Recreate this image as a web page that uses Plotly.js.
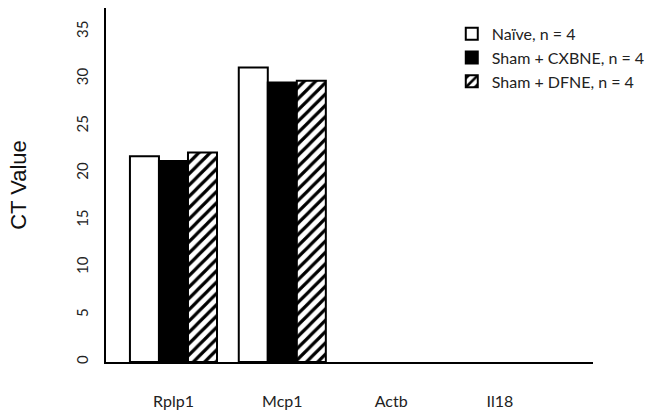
<!DOCTYPE html>
<html>
<head>
<meta charset="utf-8">
<script src="https://cdn.plot.ly/plotly-3.0.1.min.js"></script>
<style>html,body{margin:0;padding:0;background:#fff;}#chart{width:658px;height:411px;}</style>
</head>
<body>
<div id="chart"></div>
<script>
const categories = ["Rplp1", "Mcp1", "Actb", "Il18"];
const seriesNames = ["Naïve, n = 4", "Sham + CXBNE, n = 4", "Sham + DFNE, n = 4"];
const naive = [21.8, 31.2, null, null];
const cxbne = [21.3, 29.6, null, null];
const dfne = [22.2, 29.8, null, null];
const yTicks = [0, 5, 10, 15, 20, 25, 30, 35];

const base = {type: 'bar', x: categories, hoverinfo: 'skip'};
const traces = [
  Object.assign({}, base, {name: seriesNames[0], y: naive,
    marker: {color: '#ffffff', line: {color: '#000', width: 2}}}),
  Object.assign({}, base, {name: seriesNames[1], y: cxbne,
    marker: {color: '#000000', line: {color: '#000', width: 2}}}),
  Object.assign({}, base, {name: seriesNames[2], y: dfne,
    marker: {color: '#ffffff', line: {color: '#000', width: 2},
      pattern: {shape: '/', fgcolor: '#000', bgcolor: '#fff', size: 8, solidity: 0.4}}})
];

const layout = {
  width: 658, height: 411,
  margin: {l: 106, r: 60, t: 8, b: 49},
  paper_bgcolor: '#fff', plot_bgcolor: '#fff',
  font: {family: 'Lato, "Open Sans", sans-serif', color: '#222', size: 14},
  barmode: 'group', bargap: 0.2, bargroupgap: 0,
  showlegend: true,
  legend: {x: 0.71, y: 0.975, xanchor: 'left', yanchor: 'top',
    font: {size: 16, color: '#222'}, bgcolor: 'rgba(0,0,0,0)', tracegroupgap: 0,
    itemwidth: 30},
  xaxis: {type: 'category', range: [-0.62, 3.855], showline: true, linecolor: '#000', linewidth: 2,
    ticks: '', showgrid: false, zeroline: false, ticklabelstandoff: 24,
    tickfont: {size: 16, color: '#222'}, fixedrange: true},
  yaxis: {range: [0, 37.5], tickvals: yTicks, ticktext: yTicks.map(String), tickangle: -90,
    showline: true, linecolor: '#000', linewidth: 2, ticks: '', showgrid: false, zeroline: false,
    ticklabelstandoff: 10, tickfont: {size: 15, color: '#222'},
    title: {text: 'CT Value', font: {family: 'Arial, "Liberation Sans", sans-serif', size: 22, color: '#111'}, standoff: 40}, fixedrange: true}
};

Plotly.newPlot('chart', traces, layout, {displayModeBar: false, staticPlot: true});
</script>
</body>
</html>
